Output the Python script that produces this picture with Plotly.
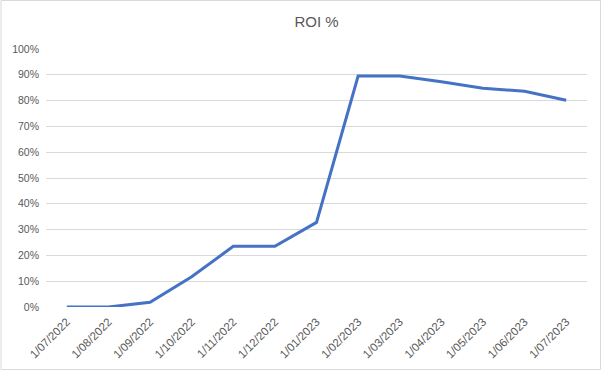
import plotly.graph_objects as go

dates = ["1/07/2022", "1/08/2022", "1/09/2022", "1/10/2022", "1/11/2022", "1/12/2022",
         "1/01/2023", "1/02/2023", "1/03/2023", "1/04/2023", "1/05/2023", "1/06/2023", "1/07/2023"]
roi = [0.0, 0.0, 0.018, 0.117, 0.235, 0.235, 0.328, 0.895, 0.895, 0.873, 0.848, 0.836, 0.801]
y_ticks = [i / 10 for i in range(11)]
y_labels = [f"{i * 10}%" for i in range(11)]

fig = go.Figure()
fig.add_trace(go.Scatter(
    x=dates, y=roi, mode="lines",
    line=dict(color="#4472C4", width=3),
    hoverinfo="x+y",
))

W, H = 602, 371
ml, mr, mt, mb = 46, 15, 49, 64
pw, ph = W - ml - mr, H - mt - mb

fig.update_layout(
    width=W, height=H,
    margin=dict(l=ml, r=mr, t=mt, b=mb, pad=0, autoexpand=False),
    paper_bgcolor="white", plot_bgcolor="white",
    font=dict(family="Liberation Sans, Arial, sans-serif", size=10, color="#595959"),
    title=dict(text="ROI %", x=0.5, xanchor="center", xref="paper",
               y=1 - 22 / H, yanchor="middle", yref="container",
               font=dict(size=15, color="#595959")),
    showlegend=False,
    xaxis=dict(type="category", range=[-0.5, len(dates) - 0.5], showgrid=False,
               showline=False, zeroline=False, tickangle=-45, ticks="", automargin=False,
               ticklabelstandoff=5,
               tickfont=dict(size=11.5, color="#595959")),
    yaxis=dict(range=[0, 1], tickvals=y_ticks, ticktext=y_labels, showgrid=True,
               gridcolor="#D9D9D9", gridwidth=1, zeroline=False, showline=False, automargin=False,
               ticks="", ticklabelstandoff=6, tickfont=dict(size=10.5, color="#595959")),
    shapes=[dict(type="rect", xref="paper", yref="paper",
                 x0=(1 - ml) / pw, x1=(W - 1.5 - ml) / pw,
                 y0=-(mb - 1.5) / ph, y1=1 + (mt - 0.5) / ph,
                 line=dict(color="#D9D9D9", width=1), fillcolor="rgba(0,0,0,0)", layer="below")],
)

fig.write_html("out.html", config={"displayModeBar": False},
               post_script="document.body.style.margin='0';document.body.style.padding='0';")
